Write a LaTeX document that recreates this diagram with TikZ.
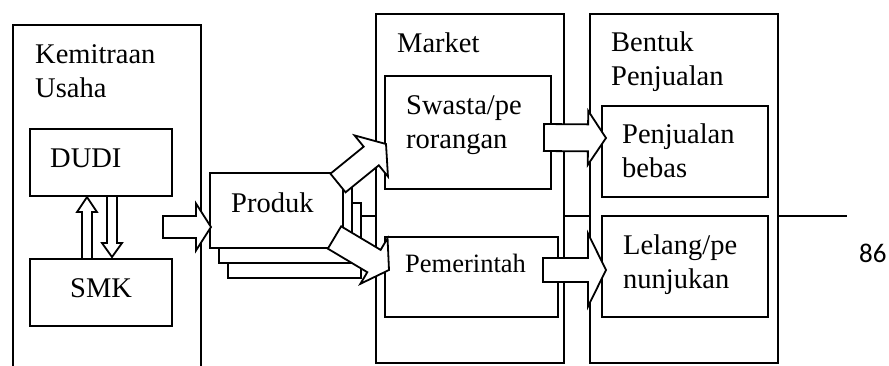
\documentclass[tikz,border=0pt]{standalone}
\usepackage{fontspec}
\setmainfont{Liberation Serif}
\newfontfamily\pagenumfont{Carlito}
\usetikzlibrary{calc}

\tikzset{
  panel/.style={draw,fill=white,line width=1.8pt,inner sep=0pt,outer sep=0pt,anchor=north west},
  lbl/.style={anchor=base west,inner sep=0pt,align=left,font=\fontsize{28.5}{34}\selectfont},
  blockarrow/.style={draw,fill=white,line width=1.8pt,line join=miter}
}

\newcommand{\hollowarrow}[5]{%
  \path (#1) coordinate (ha-a) (#2) coordinate (ha-b);
  \path ($(ha-b)!#5!(ha-a)$) coordinate (ha-h);
  \draw[blockarrow] ($(ha-a)!#3!90:(ha-b)$) -- ($(ha-h)!#3!90:(ha-b)$) -- ($(ha-h)!#4!90:(ha-b)$)
    -- (ha-b) -- ($(ha-h)!#4!-90:(ha-b)$) -- ($(ha-h)!#3!-90:(ha-b)$) -- ($(ha-a)!#3!-90:(ha-b)$) -- cycle;
}

\begin{document}
\begin{tikzpicture}[x=1pt,y=-1pt]
  \useasboundingbox (0,0) rectangle (889,365);
  \clip (0,0) rectangle (889,365);

  \draw[line width=1.6pt] (300,216) -- (847,216);

  \node[panel,minimum width=188,minimum height=370] (kemitraan) at (13,25) {};
  \node[panel,minimum width=142,minimum height=67] (dudi) at (30,129) {};
  \node[panel,minimum width=142,minimum height=67] (smk) at (30,259) {};

  \foreach \k in {2,1}
    \node[panel,minimum width=133,minimum height=75] (produk\k) at ({210+9*\k},{173+15*\k}) {};
  \node[panel,minimum width=133,minimum height=75] (produk) at (210,173) {};

  \node[panel,minimum width=188,minimum height=349] (market) at (376,14) {};
  \node[panel,minimum width=166,minimum height=113] (swasta) at (385,76) {};
  \node[panel,minimum width=173,minimum height=80] (pemerintah) at (385,237) {};

  \node[panel,minimum width=188,minimum height=349] (bentuk) at (590,14) {};
  \node[panel,minimum width=166,minimum height=91] (penjualan) at (602,106) {};
  \node[panel,minimum width=166,minimum height=101] (lelang) at (602,216) {};

  \node[lbl] (t-kemitraan) at ($(kemitraan.north west)+(22,72)$) {Kemitraan\\Usaha};
  \node[lbl] (t-dudi) at ($(dudi.north west)+(20,38)$) {DUDI};
  \node[lbl] (t-smk) at ($(smk.north west)+(40,38)$) {SMK};
  \node[lbl] (t-produk) at ($(produk.north west)+(21,39)$) {Produk};
  \node[lbl] (t-market) at ($(market.north west)+(21,38)$) {Market};
  \node[lbl] (t-swasta) at ($(swasta.north west)+(21,72)$) {Swasta/pe\\rorangan};
  \node[lbl,font=\fontsize{26.5}{32}\selectfont] (t-pemerintah) at ($(pemerintah.north west)+(20,35)$) {Pemerintah};
  \node[lbl] (t-bentuk) at ($(bentuk.north west)+(21,71)$) {Bentuk\\Penjualan};
  \node[lbl] (t-penjualan) at ($(penjualan.north west)+(20,71)$) {Penjualan\\bebas};
  \node[lbl] (t-lelang) at ($(lelang.north west)+(21,72)$) {Lelang/pe\\nunjukan};

  \node[anchor=base west,inner sep=0pt,font=\pagenumfont\fontsize{27}{32}\selectfont] (pagenum) at (859,262) {86};

  \hollowarrow{$(smk.north)+(-14,0)$}{$(dudi.south)+(-14,1)$}{5pt}{10pt}{15pt}
  \hollowarrow{$(dudi.south)+(11,0)$}{$(smk.north)+(11,-2)$}{5pt}{10pt}{14pt}
  \hollowarrow{$(produk.south west)+(-47,-21)$}{$(produk.south west)+(1,-21)$}{11pt}{23.5pt}{15pt}
  \hollowarrow{$(produk.north east)+(-5,10)$}{$(swasta.west)+(1,11.5)$}{12pt}{26.5pt}{19pt}
  \hollowarrow{$(produk.south east)+(-8.5,-10.5)$}{$(pemerintah.west)+(4,-7)$}{13pt}{26.5pt}{17.5pt}
  \hollowarrow{$(swasta.east)+(-7,5)$}{$(penjualan.west)+(4,-13.5)$}{13.5pt}{27pt}{18pt}
  \hollowarrow{$(pemerintah.east)+(-15,-7)$}{$(lelang.west)+(4,3.5)$}{12pt}{36.5pt}{18pt}
\end{tikzpicture}
\end{document}
